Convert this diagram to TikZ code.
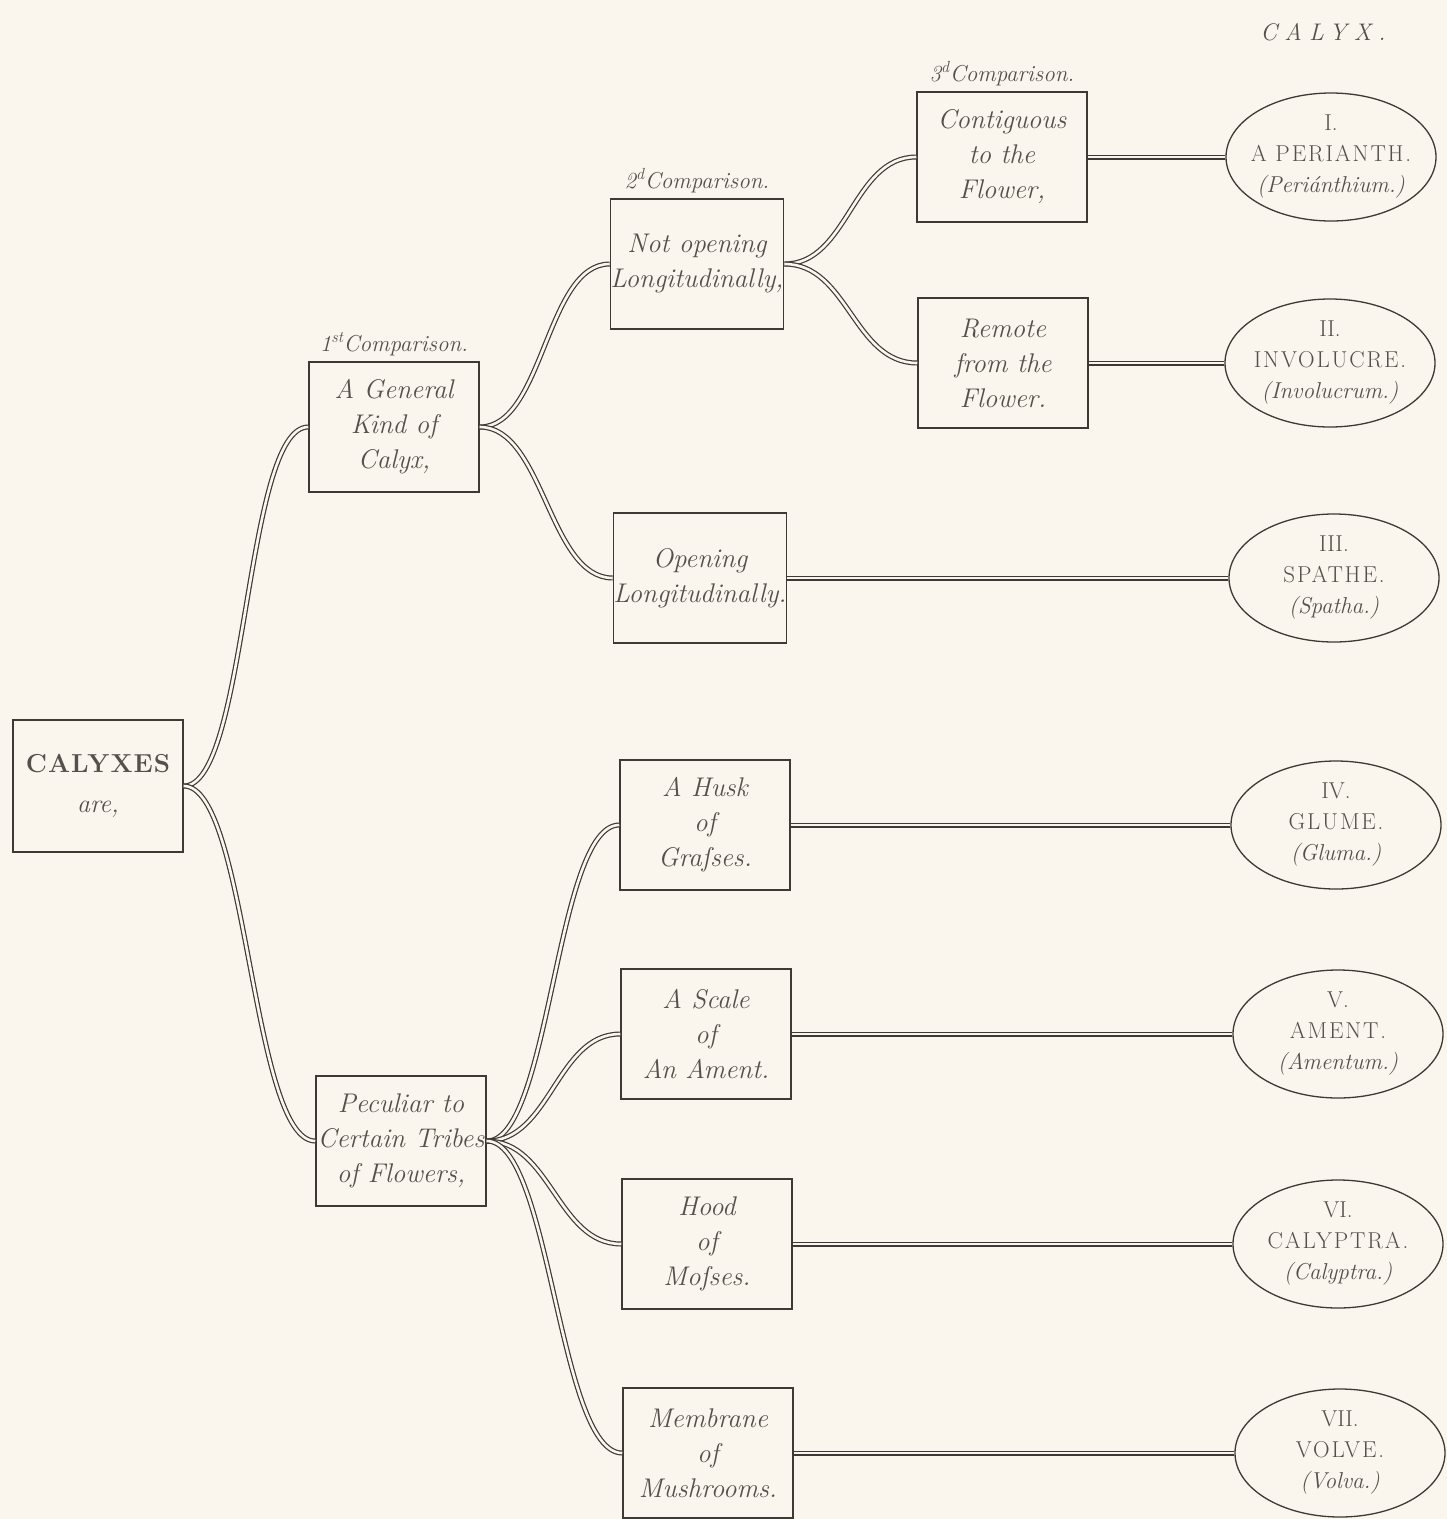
\documentclass[tikz,border=0pt]{standalone}
\usepackage{fontspec}
\setmainfont{Latin Modern Roman}
\usetikzlibrary{positioning,shapes.geometric}

\definecolor{paper}{RGB}{250,246,238}
\definecolor{ink}{RGB}{62,57,52}
\definecolor{print}{RGB}{85,80,75}

\begin{document}
\begin{tikzpicture}[x=1pt,y=1pt,
                    branch/.style={draw=ink,line width=1.2pt,double=paper,double distance=2.6pt,
                                   to path={.. controls +(64,0) and +(-64,0) .. (\tikztotarget)}},
                    stem/.style={draw=ink,line width=1.2pt,double=paper,double distance=2.6pt}]
  \tikzstyle{kind}=[rectangle,draw=ink,line width=1.5pt,fill=paper,text=print,
                    minimum width=170pt,minimum height=130pt,inner sep=0pt,align=center,
                    font=\fontsize{27}{35}\selectfont\itshape]
  \tikzstyle{genus}=[ellipse,draw=ink,line width=1.3pt,fill=paper,text=print,
                     minimum width=210pt,minimum height=128pt,inner sep=-10pt,align=center,
                     font=\fontsize{23}{31}\selectfont]
  \tikzstyle{compar}=[text=print,font=\fontsize{23}{26}\selectfont\itshape]
  \newcommand{\capsname}[1]{{\addfontfeature{LetterSpace=8}#1}}

  \useasboundingbox[fill=paper] (0,0) rectangle (1447,-1519);

  \node[text=print,font=\fontsize{24}{26}\selectfont\itshape] (title) at (1323,-32)
       {\addfontfeature{LetterSpace=30}CALYX.};

  % the tree
  \node[kind,minimum height=132pt,font=\fontsize{26}{40}\selectfont\itshape]
       (calyxes) at (98,-786) {{\upshape\bfseries\addfontfeature{LetterSpace=4}CALYXES}\\are,};

  \node[kind] (general)  at (394,-427)  {A General\\Kind of\\Calyx,};
  \node[kind] (peculiar) at (401,-1141) {Peculiar to\\Certain Tribes\\of Flowers,};

  \node[kind] (notopen)  at (697,-264)  {Not opening\\Longitudinally,};
  \node[kind] (opening)  at (700,-578)  {Opening\\Longitudinally.};
  \node[kind] (husk)     at (705,-825)  {A Husk\\of\\Graſses.};
  \node[kind] (ament)    at (706,-1034) {A Scale\\of\\An Ament.};
  \node[kind] (hood)     at (707,-1244) {Hood\\of\\Moſses.};
  \node[kind] (membrane) at (708,-1453) {Membrane\\of\\Mushrooms.};

  \node[kind] (contig)   at (1002,-157) {Contiguous\\to the\\Flower,};
  \node[kind] (remote)   at (1003,-363) {Remote\\from the\\Flower.};

  \node[compar] (comp1) [above=2pt of general] {1\textsuperscript{st}Comparison.};
  \node[compar] (comp2) [above=2pt of notopen] {2\textsuperscript{d}Comparison.};
  \node[compar] (comp3) [above=2pt of contig]  {3\textsuperscript{d}Comparison.};

  % the seven kinds
  \node[genus] (perianth)  at (1331,-157)  {I.\\\capsname{A PERIANTH.}\\\textit{(Periánthium.)}};
  \node[genus] (involucre) at (1330,-363)  {II.\\\capsname{INVOLUCRE.}\\\textit{(Involucrum.)}};
  \node[genus] (spathe)    at (1334,-578)  {III.\\\capsname{SPATHE.}\\\textit{(Spatha.)}};
  \node[genus] (glume)     at (1336,-825)  {IV.\\\capsname{GLUME.}\\\textit{(Gluma.)}};
  \node[genus] (amentum)   at (1338,-1034) {V.\\\capsname{AMENT.}\\\textit{(Amentum.)}};
  \node[genus] (calyptra)  at (1338,-1244) {VI.\\\capsname{CALYPTRA.}\\\textit{(Calyptra.)}};
  \node[genus] (volva)     at (1340,-1453) {VII.\\\capsname{VOLVE.}\\\textit{(Volva.)}};

  \path (calyxes.east)  edge[branch] (general.west)
                        edge[branch] (peculiar.west)
        (general.east)  edge[branch] (notopen.west)
                        edge[branch] (opening.west)
        (notopen.east)  edge[branch] (contig.west)
                        edge[branch] (remote.west)
        (peculiar.east) edge[branch] (husk.west)
                        edge[branch] (ament.west)
                        edge[branch] (hood.west)
                        edge[branch] (membrane.west)
        (contig.east)   edge[stem]   (perianth.west)
        (remote.east)   edge[stem]   (involucre.west)
        (opening.east)  edge[stem]   (spathe.west)
        (husk.east)     edge[stem]   (glume.west)
        (ament.east)    edge[stem]   (amentum.west)
        (hood.east)     edge[stem]   (calyptra.west)
        (membrane.east) edge[stem]   (volva.west);
\end{tikzpicture}
\end{document}
